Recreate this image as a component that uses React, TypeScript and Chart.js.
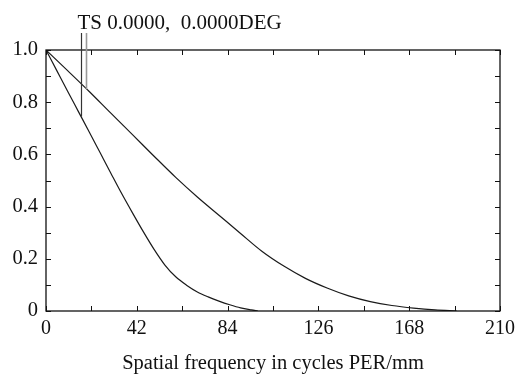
import React, { useEffect, useRef } from "react";
import { Chart, registerables } from "chart.js";

Chart.register(...registerables);

// Spatial frequency (cycles/mm) and MTF values
const freqUpper = [0, 10, 20, 30, 40, 50, 60, 70, 80, 90, 100, 110, 120, 130, 140, 150, 160, 170, 180, 190];
const mtfUpper = [1.0, 0.921, 0.841, 0.758, 0.676, 0.593, 0.512, 0.437, 0.367, 0.297, 0.228, 0.172, 0.125, 0.088, 0.058, 0.036, 0.021, 0.011, 0.004, 0.0];

const freqLower = [0, 5, 10, 15, 20, 25, 30, 35, 40, 45, 50, 55, 60, 65, 70, 75, 80, 85, 90, 95, 98];
const mtfLower = [1.0, 0.921, 0.842, 0.764, 0.686, 0.607, 0.528, 0.45, 0.376, 0.304, 0.236, 0.176, 0.131, 0.099, 0.073, 0.054, 0.038, 0.024, 0.012, 0.004, 0.0];

// Axis ticks
const xTickValues = [0, 21, 42, 63, 84, 105, 126, 147, 168, 189, 210];
const xLabelValues = [0, 42, 84, 126, 168, 210];
const yTickValues = [0, 0.1, 0.2, 0.3, 0.4, 0.5, 0.6, 0.7, 0.8, 0.9, 1.0];
const yLabelValues = [0, 0.2, 0.4, 0.6, 0.8, 1.0];

// Field marker
const markerLabel = "TS 0.0000,  0.0000DEG";
const markerFreqs = [16.2, 18.7];
const markerMtf = [0.745, 0.85];

const xTitle = "Spatial frequency in cycles PER/mm";

const FONT = "'Liberation Serif', 'Times New Roman', Times, serif";

const framePlugin = {
  id: "frameTicks",
  afterDraw(chart: any) {
    const { ctx, chartArea: a, scales } = chart;
    const xs = scales.x;
    const ys = scales.y;
    ctx.save();
    ctx.strokeStyle = "#111";
    ctx.lineWidth = 1.3;
    ctx.strokeRect(a.left, a.top, a.right - a.left, a.bottom - a.top);

    const tl = 5;
    ctx.lineWidth = 1;
    ctx.beginPath();
    xTickValues.forEach((v) => {
      const px = Math.round(xs.getPixelForValue(v)) + 0.5;
      ctx.moveTo(px, a.bottom);
      ctx.lineTo(px, a.bottom - tl);
      ctx.moveTo(px, a.top);
      ctx.lineTo(px, a.top + tl);
    });
    yTickValues.forEach((v) => {
      const py = Math.round(ys.getPixelForValue(v)) + 0.5;
      ctx.moveTo(a.left, py);
      ctx.lineTo(a.left + tl, py);
      ctx.moveTo(a.right, py);
      ctx.lineTo(a.right - tl, py);
    });
    ctx.stroke();

    // marker lines
    const topY = a.top - 17;
    ctx.strokeStyle = "#333";
    ctx.lineWidth = 1.2;
    ctx.beginPath();
    const m0 = Math.round(xs.getPixelForValue(markerFreqs[0])) + 0.5;
    ctx.moveTo(m0, topY);
    ctx.lineTo(m0, ys.getPixelForValue(markerMtf[0]));
    ctx.stroke();
    ctx.strokeStyle = "#999";
    ctx.lineWidth = 1.6;
    ctx.beginPath();
    const m1 = Math.round(xs.getPixelForValue(markerFreqs[1])) + 0.5;
    ctx.moveTo(m1, topY);
    ctx.lineTo(m1, ys.getPixelForValue(markerMtf[1]));
    ctx.stroke();

    ctx.fillStyle = "#111";
    ctx.font = `21px ${FONT}`;
    ctx.textBaseline = "alphabetic";
    ctx.textAlign = "left";
    ctx.fillText(markerLabel, m0 - 4, a.top - 21);
    ctx.restore();
  },
};

export default function App() {
  const canvasRef = useRef<HTMLCanvasElement | null>(null);

  useEffect(() => {
    const canvas = canvasRef.current;
    if (!canvas) return;
    const chart = new Chart(canvas, {
      type: "line",
      data: {
        datasets: [
          {
            data: freqUpper.map((f, i) => ({ x: f, y: mtfUpper[i] })),
            borderColor: "#1a1a1a",
            borderWidth: 1.2,
            pointRadius: 0,
            cubicInterpolationMode: "monotone",
            fill: false,
          },
          {
            data: freqLower.map((f, i) => ({ x: f, y: mtfLower[i] })),
            borderColor: "#1a1a1a",
            borderWidth: 1.2,
            pointRadius: 0,
            cubicInterpolationMode: "monotone",
            fill: false,
          },
        ],
      },
      options: {
        responsive: false,
        animation: false,
        devicePixelRatio: 1,
        layout: { padding: { top: 50, right: 17, left: 0, bottom: 0 } },
        plugins: {
          legend: { display: false },
          tooltip: { enabled: false },
        },
        scales: {
          x: {
            type: "linear",
            min: 0,
            max: 210,
            grid: { display: false, drawTicks: false },
            border: { display: false },
            ticks: {
              stepSize: 21,
              autoSkip: false,
              maxRotation: 0,
              padding: 6,
              color: "#111",
              font: { family: FONT, size: 20 },
              callback: (v: any) => {
                const n = Math.round(Number(v));
                return xLabelValues.includes(n) ? String(n) : "";
              },
            },
            title: {
              display: true,
              text: xTitle,
              color: "#111",
              font: { family: FONT, size: 20.5 },
              padding: { top: 0, bottom: 0 },
            },
            afterFit: (s: any) => {
              s.height = 65;
              s.paddingLeft = 0;
              s.paddingRight = 0;
            },
          },
          y: {
            type: "linear",
            min: 0,
            max: 1,
            grid: { display: false, drawTicks: false },
            border: { display: false },
            ticks: {
              stepSize: 0.1,
              autoSkip: false,
              padding: 8,
              color: "#111",
              font: { family: FONT, size: 20.5 },
              callback: (v: any) => {
                const r = Math.round(Number(v) * 10) / 10;
                if (!yLabelValues.some((t) => Math.abs(t - r) < 1e-6)) return "";
                return r === 0 ? "0" : r.toFixed(1);
              },
            },
            afterFit: (s: any) => {
              s.width = 46;
              s.paddingTop = 0;
              s.paddingBottom = 0;
            },
          },
        },
      },
      plugins: [framePlugin],
    } as any);
    return () => chart.destroy();
  }, []);

  return (
    <div style={{ position: "absolute", left: 0, top: 0, width: 517, height: 376, background: "#fff" }}>
      <canvas ref={canvasRef} width={517} height={376} style={{ display: "block", width: 517, height: 376 }} />
    </div>
  );
}
